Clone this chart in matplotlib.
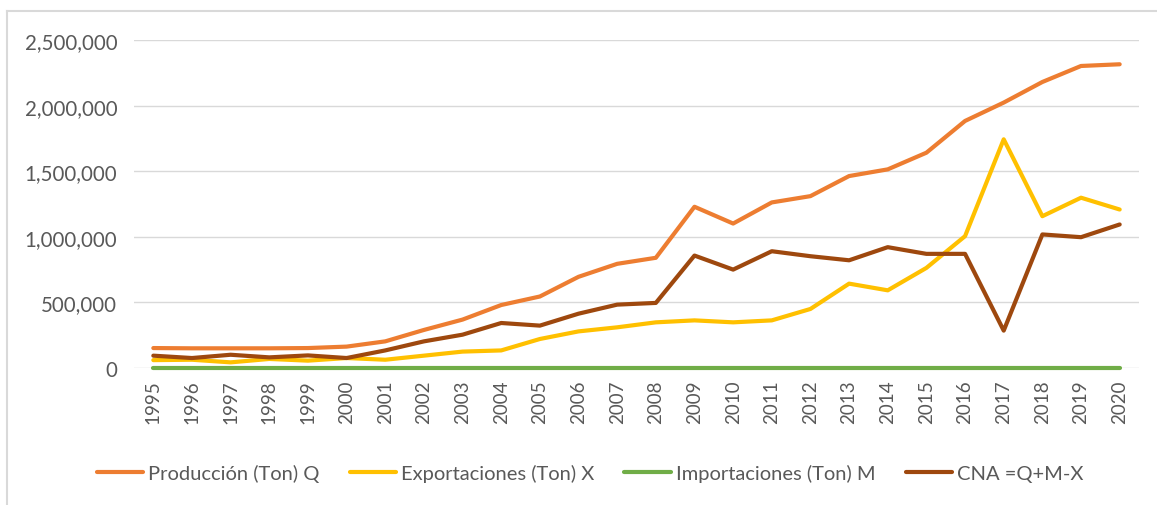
import matplotlib
matplotlib.use("Agg")
import matplotlib.pyplot as plt
from matplotlib.lines import Line2D
from matplotlib.ticker import FuncFormatter, MultipleLocator

years = [str(y) for y in range(1995, 2021)]
produccion = [152000, 150000, 150000, 150000, 152000, 163000, 203000, 290000, 369000, 480000,
              545000, 695000, 794000, 840000, 1229000, 1101000, 1262000, 1310000, 1463000, 1514000,
              1641000, 1883000, 2023000, 2180000, 2302000, 2315000]
exportaciones = [60000, 63000, 43000, 69000, 56000, 76000, 63000, 94000, 125000, 134000,
                 221000, 279000, 310000, 348000, 363000, 348000, 363000, 450000, 643000, 592000,
                 763000, 1005000, 1743000, 1157000, 1298000, 1208000]
importaciones = [0] * 26
cna = [94000, 76000, 101000, 81000, 96000, 76000, 134000, 203000, 254000, 343000,
       323000, 414000, 483000, 496000, 857000, 750000, 890000, 852000, 821000, 921000,
       870000, 870000, 285000, 1018000, 997000, 1094000]

labels = ["Producción (Ton) Q", "Exportaciones (Ton) X", "Importaciones (Ton) M", "CNA =Q+M-X"]
colors = ["#ED7D31", "#FFC000", "#70AD47", "#9E480E"]

plt.rcParams['font.family'] = ['Lato', 'DejaVu Sans']

W, H = 1157, 506
fig = plt.figure(figsize=(W / 100, H / 100), dpi=100)
ax = fig.add_axes([134 / W, 1 - 369 / H, (1139 - 134) / W, (369 - 41) / H])

x = list(range(len(years)))
series = [produccion, exportaciones, importaciones, cna]
for s, c, l in zip(series, colors, labels):
    ax.plot(x, s, color=c, lw=3.0, label=l, solid_capstyle='round', solid_joinstyle='round',
            zorder=3, clip_on=False)

ax.set_xlim(-0.5, len(years) - 0.5)
ax.set_ylim(0, 2500000)
ax.yaxis.set_major_locator(MultipleLocator(500000))
ax.yaxis.set_major_formatter(FuncFormatter(lambda v, p: f"{int(v):,}"))
ax.grid(axis='y', color='#D9D9D9', lw=1.0, zorder=0)
ax.set_xticks(x)
ax.set_xticklabels(years, rotation=90)
for sp in ax.spines.values():
    sp.set_visible(False)
ax.tick_params(axis='both', length=0, colors='#595959')
ax.tick_params(axis='y', pad=12, labelsize=14.8)
ax.tick_params(axis='x', pad=8, labelsize=13.5)

handles = [Line2D([0], [0], color=c, lw=3.0, solid_capstyle='round') for c in colors]
fig.legend(handles, labels, loc='center', bbox_to_anchor=(590 / W, 1 - 474 / H), ncol=4,
           frameon=False, fontsize=14.5, labelcolor='#595959', handlelength=2.3,
           handletextpad=0.25, columnspacing=1.5)

# chart border (top and left visible)
fig.add_artist(Line2D([7 / W, 7 / W], [0, 1 - 12 / H], color='#D9D9D9', lw=1.5, transform=fig.transFigure))
fig.add_artist(Line2D([7 / W, 1], [1 - 12 / H, 1 - 12 / H], color='#D9D9D9', lw=1.5, transform=fig.transFigure))

fig.savefig("out.png", dpi=100, facecolor='white')
